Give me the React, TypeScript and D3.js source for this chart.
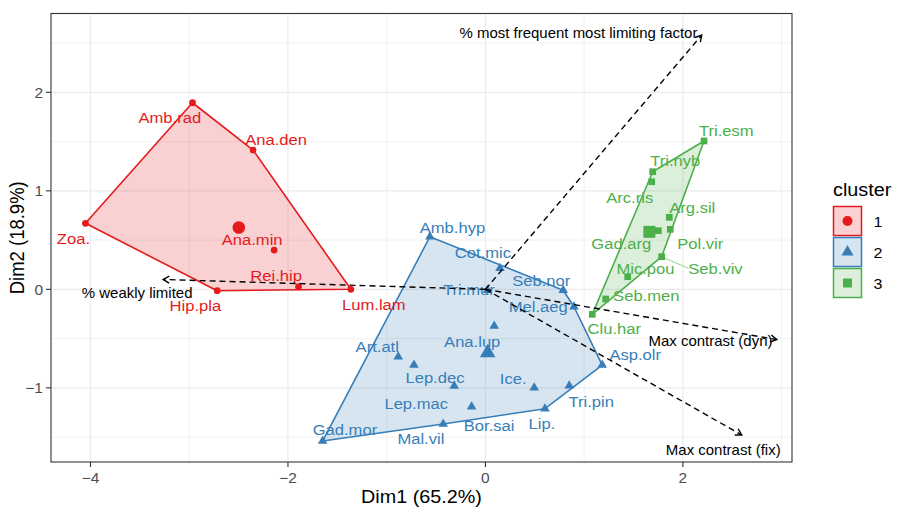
import React from 'react'
import * as d3 from 'd3'

// species coordinates on the first two dimensions
const species = [
    'Amb.rad', 'Ana.den', 'Zoa.', 'Ana.min', 'Rei.hip', 'Hip.pla', 'Lum.lam',
    'Amb.hyp', 'Cot.mic', 'Seb.nor', 'Mel.aeg', 'Tri.mur', 'Ana.lup', 'Art.atl', 'Lep.dec',
    'Lep.mac', 'Bor.sai', 'Mal.vil', 'Gad.mor', 'Lip.', 'Ice.', 'Tri.pin', 'Asp.olr',
    'Tri.esm', 'Tri.nyb', 'Arc.ris', 'Arg.sil', 'Pol.vir', 'Gad.arg', 'Seb.viv', 'Mic.pou',
    'Seb.men', 'Clu.har',
]
const dim1 = [
    -2.967, -2.353, -4.051, -2.14, -1.893, -2.717, -1.363,
    -0.562, 0.147, 0.788, 0.897, 0.02, 0.089, -0.883, -0.724,
    -0.316, -0.14, -0.428, -1.649, 0.603, 0.494, 0.849, 1.183,
    2.214, 1.694, 1.684, 1.862, 1.872, 1.751, 1.785, 1.441,
    1.218, 1.082,
]
const dim2 = [
    1.894, 1.414, 0.67, 0.399, 0.026, -0.014, 0.0,
    0.534, 0.213, -0.01, -0.177, -0.01, -0.373, -0.684, -0.769,
    -0.982, -1.192, -1.368, -1.54, -1.212, -0.999, -0.979, -0.769,
    1.506, 1.194, 1.092, 0.731, 0.609, 0.595, 0.331, 0.128,
    -0.098, -0.254,
]
const clusterOf = [
    1, 1, 1, 1, 1, 1, 1,
    2, 2, 2, 2, 2, 2, 2, 2, 2, 2, 2, 2, 2, 2, 2, 2,
    3, 3, 3, 3, 3, 3, 3, 3, 3, 3,
]
const clusterNames = ['1', '2', '3']

// supplementary variables (arrows from the origin)
const supNames = [
    '% most frequent most limiting factor',
    '% weakly limited',
    'Max contrast (dyn)',
    'Max contrast (fix)',
]
const supDim1 = [2.19, -3.264, 2.95, 2.596]
const supDim2 = [2.58, 0.1, -0.51, -1.479]

const xTicks = [-4, -2, 0, 2]
const yTicks = [-1, 0, 1, 2]
const xMinor = [-3, -1, 1, 3]
const yMinor = [-1.5, -0.5, 0.5, 1.5, 2.5]

// layout
const W = 898
const H = 522
const panel = { left: 51, right: 792, top: 13.5, bottom: 462 }
const colors = ['#E41A1C', '#377EB8', '#4DAF4A']
const font = "'Liberation Sans', Arial, Helvetica, sans-serif"
const SX = 1.07 // text in the reference is drawn slightly wide

// label centre offsets from each point, in px (repelled labels)
const labelOffset = {
    'Amb.rad': [-22.7, 14.6], 'Ana.den': [23, -11], 'Zoa.': [-12, 15], 'Ana.min': [-22, -10.7],
    'Rei.hip': [-22.4, -11.7], 'Hip.pla': [-21.8, 15], 'Lum.lam': [23, 15],
    'Amb.hyp': [22.5, -10], 'Cot.mic': [-17, -16], 'Seb.nor': [-22, -10], 'Mel.aeg': [-35.7, -0.7],
    'Tri.mur': [-18.5, -1], 'Ana.lup': [-22, 14.7], 'Art.atl': [-21, -10.7], 'Lep.dec': [21, 11.7],
    'Lep.mac': [-38, 16.7], 'Bor.sai': [17.5, 18.3], 'Mal.vil': [-22.3, 14.3], 'Gad.mor': [22.3, -11.7],
    'Lip.': [-3, 14.7], 'Ice.': [-21, -10], 'Tri.pin': [22, 15.3], 'Asp.olr': [33, -11],
    'Tri.esm': [22.3, -11], 'Tri.nyb': [22.6, -11.7], 'Arc.ris': [-22, 15], 'Arg.sil': [23, -10.6],
    'Pol.vir': [30, 13.4], 'Gad.arg': [-37, 12], 'Seb.viv': [53.8, 11.6], 'Mic.pou': [17.8, -8.4],
    'Seb.men': [40.6, -4], 'Clu.har': [22, 14],
}
const supLabelOffset = [[-123.2, -2], [-26, 13.7], [-66.2, 1.4], [-18.5, 15]]

const symbolTypes = [d3.symbolCircle, d3.symbolTriangle, d3.symbolSquare]
const pointSize = [36, 40, 45]
const centroidSize = [125, 105, 144]
const legendSize = [78, 62, 81]

function Txt({ x, y, size, fill = '#000', anchor = 'middle', rotate = 0, children }) {
    const t = `translate(${x},${y}) scale(${SX},1)` + (rotate ? ` rotate(${rotate})` : '')
    return (
        <text
            transform={t}
            fontSize={size}
            fill={fill}
            textAnchor={anchor}
            dominantBaseline="central"
            fontFamily={font}
        >
            {children}
        </text>
    )
}

const fmt = (v) => (v < 0 ? '\u2212' + Math.abs(v) : String(v))

export default function App() {
    const x = d3.scaleLinear().domain([-4.4, 3.105]).range([panel.left, panel.right])
    const y = d3.scaleLinear().domain([-1.753, 2.8]).range([panel.bottom, panel.top])

    const pts = species.map((name, i) => ({
        name,
        c: clusterOf[i],
        px: x(dim1[i]),
        py: y(dim2[i]),
    }))

    const clusters = clusterNames.map((_, k) => {
        const c = k + 1
        const idx = d3.range(species.length).filter((i) => clusterOf[i] === c)
        const hull = d3.polygonHull(idx.map((i) => [x(dim1[i]), y(dim2[i])]))
        return {
            c,
            hull,
            cx: x(d3.mean(idx, (i) => dim1[i])),
            cy: y(d3.mean(idx, (i) => dim2[i])),
        }
    })

    const sym = (c, size) => d3.symbol().type(symbolTypes[c - 1]).size(size)()

    const ox = x(0)
    const oy = y(0)
    const arrows = supNames.map((name, i) => {
        const tx = x(supDim1[i])
        const ty = y(supDim2[i])
        const a = Math.atan2(ty - oy, tx - ox)
        const len = 7
        const h1 = [tx - len * Math.cos(a - Math.PI / 6), ty - len * Math.sin(a - Math.PI / 6)]
        const h2 = [tx - len * Math.cos(a + Math.PI / 6), ty - len * Math.sin(a + Math.PI / 6)]
        return { name, tx, ty, head: `M${h1[0]},${h1[1]}L${tx},${ty}L${h2[0]},${h2[1]}`, off: supLabelOffset[i] }
    })

    const segPt = pts.find((p) => p.name === 'Seb.viv')

    return (
        <svg width={W} height={H} style={{ position: 'absolute', left: 0, top: 0, background: '#fff' }}>
            {/* grid */}
            <rect x={panel.left} y={panel.top} width={panel.right - panel.left} height={panel.bottom - panel.top} fill="#fff" />
            {xMinor.map((v) => (
                <line key={'xm' + v} x1={x(v)} x2={x(v)} y1={panel.top} y2={panel.bottom} stroke="#EBEBEB" strokeWidth={0.7} />
            ))}
            {yMinor.map((v) => (
                <line key={'ym' + v} x1={panel.left} x2={panel.right} y1={y(v)} y2={y(v)} stroke="#EBEBEB" strokeWidth={0.7} />
            ))}
            {xTicks.map((v) => (
                <line key={'xg' + v} x1={x(v)} x2={x(v)} y1={panel.top} y2={panel.bottom} stroke="#EBEBEB" strokeWidth={1.2} />
            ))}
            {yTicks.map((v) => (
                <line key={'yg' + v} x1={panel.left} x2={panel.right} y1={y(v)} y2={y(v)} stroke="#EBEBEB" strokeWidth={1.2} />
            ))}

            {/* hulls */}
            {clusters.map((cl) => (
                <path
                    key={'h' + cl.c}
                    d={'M' + cl.hull.join('L') + 'Z'}
                    fill={colors[cl.c - 1]}
                    fillOpacity={0.2}
                    stroke={colors[cl.c - 1]}
                    strokeWidth={1.6}
                    strokeLinejoin="round"
                />
            ))}

            {/* points */}
            {pts.map((p) => (
                <path key={'p' + p.name} d={sym(p.c, pointSize[p.c - 1])} transform={`translate(${p.px},${p.py})`} fill={colors[p.c - 1]} />
            ))}
            {clusters.map((cl) => (
                <path key={'c' + cl.c} d={sym(cl.c, centroidSize[cl.c - 1])} transform={`translate(${cl.cx},${cl.cy})`} fill={colors[cl.c - 1]} />
            ))}

            {/* label segment */}
            <line
                x1={segPt.px}
                y1={segPt.py}
                x2={segPt.px + labelOffset['Seb.viv'][0] - 27}
                y2={segPt.py + labelOffset['Seb.viv'][1]}
                stroke={colors[2]}
                strokeWidth={0.6}
            />

            {/* labels */}
            {pts.map((p) => (
                <Txt key={'l' + p.name} x={p.px + labelOffset[p.name][0]} y={p.py + labelOffset[p.name][1]} size={15.5} fill={colors[p.c - 1]}>
                    {p.name}
                </Txt>
            ))}

            {/* supplementary variable arrows */}
            {arrows.map((a) => (
                <g key={'a' + a.name}>
                    <line x1={ox} y1={oy} x2={a.tx} y2={a.ty} stroke="#000" strokeWidth={1.4} strokeDasharray="6,4" />
                    <path d={a.head} fill="none" stroke="#000" strokeWidth={1.4} />
                    <Txt x={a.tx + a.off[0]} y={a.ty + a.off[1]} size={14} fill="#000">
                        {a.name}
                    </Txt>
                </g>
            ))}

            {/* panel border */}
            <rect
                x={panel.left}
                y={panel.top}
                width={panel.right - panel.left}
                height={panel.bottom - panel.top}
                fill="none"
                stroke="#333333"
                strokeWidth={1.1}
            />

            {/* axes */}
            {xTicks.map((v) => (
                <g key={'xt' + v}>
                    <line x1={x(v)} x2={x(v)} y1={panel.bottom} y2={panel.bottom + 5} stroke="#333333" strokeWidth={1.1} />
                    <Txt x={x(v)} y={panel.bottom + 16} size={14.5} fill="#4D4D4D">
                        {fmt(v)}
                    </Txt>
                </g>
            ))}
            {yTicks.map((v) => (
                <g key={'yt' + v}>
                    <line x1={panel.left - 5} x2={panel.left} y1={y(v)} y2={y(v)} stroke="#333333" strokeWidth={1.1} />
                    <Txt x={panel.left - 8} y={y(v)} size={14.5} fill="#4D4D4D" anchor="end">
                        {fmt(v)}
                    </Txt>
                </g>
            ))}
            <Txt x={(panel.left + panel.right) / 2} y={497} size={18.5}>
                Dim1 (65.2%)
            </Txt>
            <Txt x={17} y={(panel.top + panel.bottom) / 2} size={18.5} rotate={-90}>
                Dim2 (18.9%)
            </Txt>

            {/* legend */}
            <Txt x={833} y={190} size={18.5} anchor="start">
                cluster
            </Txt>
            {clusterNames.map((name, k) => (
                <g key={'lg' + name} transform={`translate(833.5, ${206.5 + k * 31})`}>
                    <rect width={28} height={29} fill={colors[k]} fillOpacity={0.2} stroke={colors[k]} strokeWidth={1.5} />
                    <path d={sym(k + 1, legendSize[k])} transform="translate(14,14.5)" fill={colors[k]} />
                    <Txt x={40} y={15} size={15} anchor="start">
                        {name}
                    </Txt>
                </g>
            ))}
        </svg>
    )
}
